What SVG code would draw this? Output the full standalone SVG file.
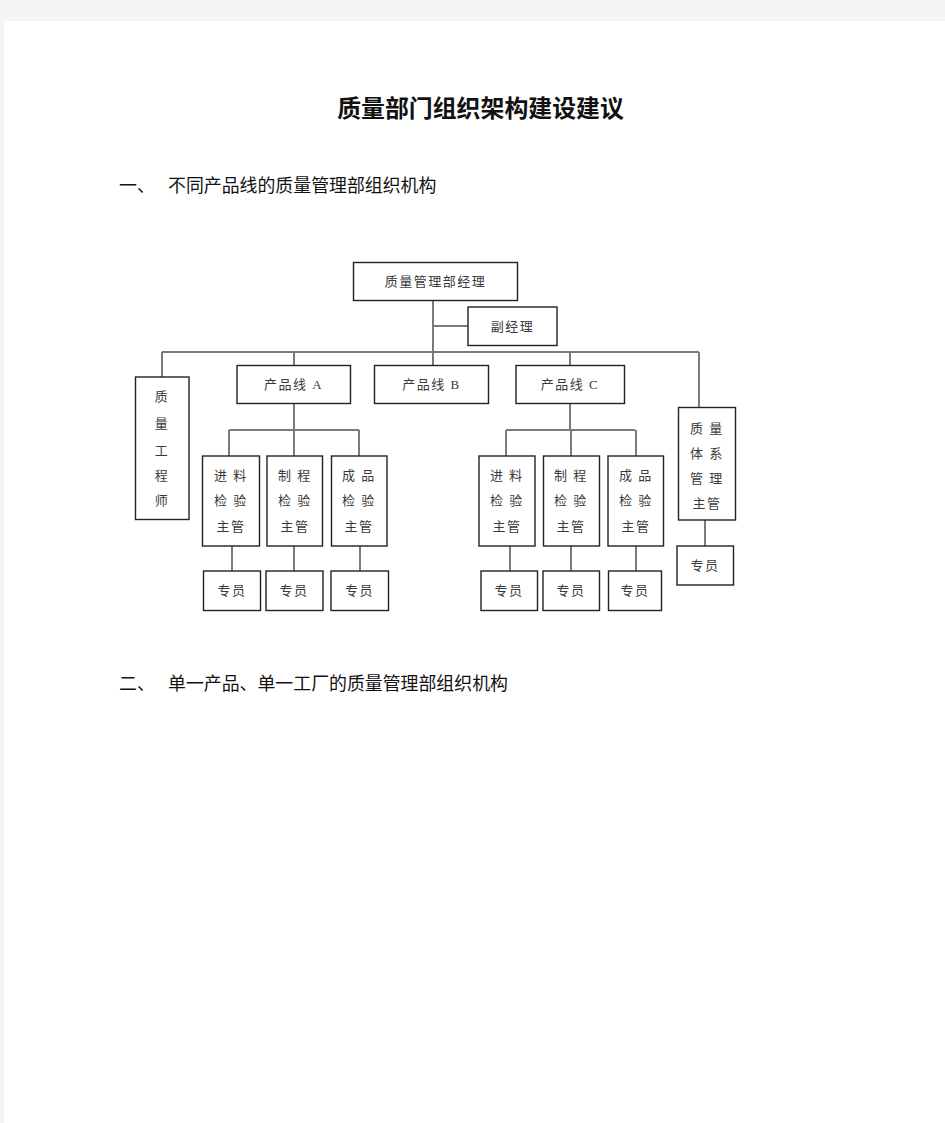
<svg xmlns="http://www.w3.org/2000/svg" width="945" height="1123" viewBox="0 0 945 1123">
<style>
.bx{fill:#fff;stroke:#222;stroke-width:1.4}
.cn{fill:none;stroke:#7a7a7a;stroke-width:2}
.t{font-family:"Liberation Serif","Noto Sans CJK SC",sans-serif;font-size:13px;fill:#3a3a3a;text-anchor:middle;letter-spacing:1.5px}
.h{font-family:"Noto Sans CJK SC",sans-serif;font-size:17.9px;fill:#111}
</style>
<rect x="0" y="0" width="945" height="1123" fill="#f4f4f4"/>
<rect x="4" y="21" width="941" height="1102" fill="#fff"/>
<text x="480.5" y="117" font-family="Noto Sans CJK SC, sans-serif" font-size="23.9" font-weight="bold" fill="#111" text-anchor="middle">质量部门组织架构建设建议</text>
<text class="h" x="119" y="192">一、</text>
<text class="h" x="168" y="192">不同产品线的质量管理部组织机构</text>
<text class="h" x="119" y="690">二、</text>
<text class="h" x="168" y="690">单一产品、单一工厂的质量管理部组织机构</text>
<g id="connectors">
<path class="cn" d="M433 300V366M433 326H468M162 352H699M162 352V377M294 352V366M570 352V366M699 352V408"/>
<path class="cn" d="M294 403V430M229 430H359M229 430V456M294 430V456M359 430V456"/>
<path class="cn" d="M570 403V430M506 430H635M506 430V456M571 430V456M636 430V456"/>
<path class="cn" d="M232 546V571M294 546V571M360 546V571M510 546V571M571 546V571M636 546V571M705 520V546"/>
</g>
<g id="n_manager"><rect class="bx" x="353.5" y="262.5" width="164" height="38"/><text class="t" x="435.5" y="286">质量管理部经理</text></g>
<g id="n_deputy"><rect class="bx" x="468" y="307" width="89" height="38.5"/><text class="t" x="512.5" y="331">副经理</text></g>
<g id="n_qe"><rect class="bx" x="135.5" y="377" width="53.5" height="142.5"/>
<text class="t" x="162" y="401">质</text><text class="t" x="162" y="428">量</text><text class="t" x="162" y="455">工</text><text class="t" x="162" y="480">程</text><text class="t" x="162" y="505">师</text></g>
<g id="n_lineA"><rect class="bx" x="237" y="365.5" width="113.5" height="38"/><text class="t" x="293.5" y="389">产品线 A</text></g>
<g id="n_lineB"><rect class="bx" x="374.5" y="365.5" width="114" height="38"/><text class="t" x="431.5" y="389">产品线 B</text></g>
<g id="n_lineC"><rect class="bx" x="516" y="365.5" width="108.5" height="38"/><text class="t" x="570" y="389">产品线 C</text></g>
<g id="n_qms"><rect class="bx" x="678.5" y="407.5" width="57" height="112.5"/>
<text class="t" x="707" y="433">质 量</text><text class="t" x="707" y="458">体 系</text><text class="t" x="707" y="483">管 理</text><text class="t" x="707" y="508">主管</text></g>
<g id="n_a1"><rect class="bx" x="202.5" y="456" width="57" height="90"/><text class="t" x="231" y="480">进 料</text><text class="t" x="231" y="505">检 验</text><text class="t" x="231" y="531">主管</text></g>
<g id="n_a2"><rect class="bx" x="267" y="456" width="55.5" height="90"/><text class="t" x="295" y="480">制 程</text><text class="t" x="295" y="505">检 验</text><text class="t" x="295" y="531">主管</text></g>
<g id="n_a3"><rect class="bx" x="331.5" y="456" width="55.5" height="90"/><text class="t" x="359" y="480">成 品</text><text class="t" x="359" y="505">检 验</text><text class="t" x="359" y="531">主管</text></g>
<g id="n_c1"><rect class="bx" x="479" y="456" width="56" height="90"/><text class="t" x="507" y="480">进 料</text><text class="t" x="507" y="505">检 验</text><text class="t" x="507" y="531">主管</text></g>
<g id="n_c2"><rect class="bx" x="543.5" y="456" width="56" height="90"/><text class="t" x="571" y="480">制 程</text><text class="t" x="571" y="505">检 验</text><text class="t" x="571" y="531">主管</text></g>
<g id="n_c3"><rect class="bx" x="608" y="456" width="55.5" height="90"/><text class="t" x="636" y="480">成 品</text><text class="t" x="636" y="505">检 验</text><text class="t" x="636" y="531">主管</text></g>
<g id="n_s1"><rect class="bx" x="203.5" y="571" width="57" height="39.5"/><text class="t" x="232" y="595">专员</text></g>
<g id="n_s2"><rect class="bx" x="266" y="571" width="57" height="39.5"/><text class="t" x="294" y="595">专员</text></g>
<g id="n_s3"><rect class="bx" x="331" y="571" width="57.5" height="39.5"/><text class="t" x="359.5" y="595">专员</text></g>
<g id="n_s4"><rect class="bx" x="481" y="571" width="56.5" height="39.5"/><text class="t" x="509" y="595">专员</text></g>
<g id="n_s5"><rect class="bx" x="543" y="571" width="56.5" height="39.5"/><text class="t" x="571" y="595">专员</text></g>
<g id="n_s6"><rect class="bx" x="608.5" y="571" width="53" height="39.5"/><text class="t" x="635" y="595">专员</text></g>
<g id="n_s7"><rect class="bx" x="677" y="546" width="56.5" height="39"/><text class="t" x="705" y="570">专员</text></g>
</svg>
